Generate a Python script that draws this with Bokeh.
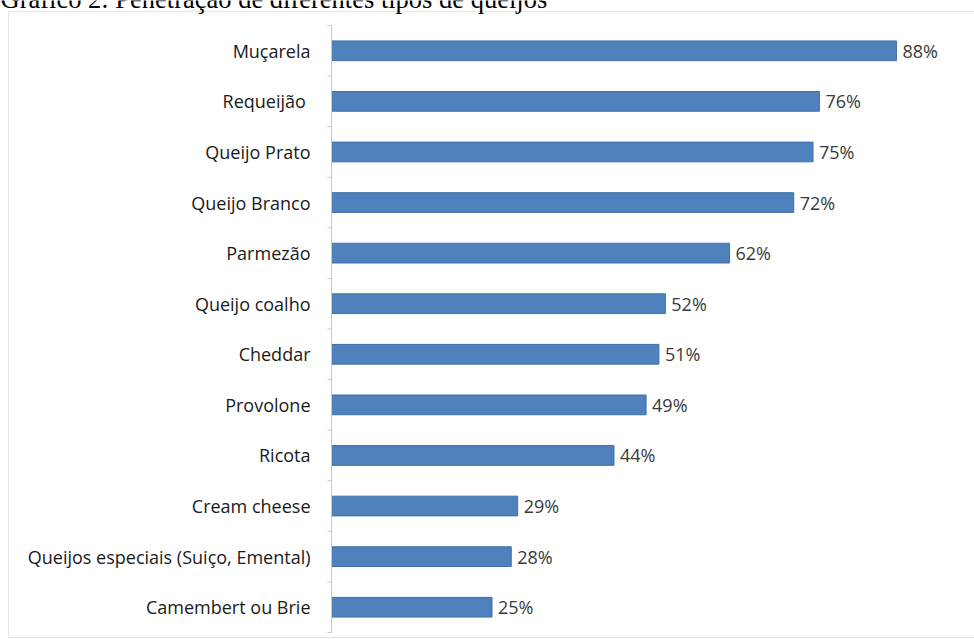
import math
from bokeh.plotting import figure
from bokeh.models import Range1d, ColumnDataSource, LabelSet, Label, BoxAnnotation
from bokeh.core.properties import value
from bokeh.embed import file_html
from bokeh.resources import INLINE

categories = ["Muçarela", "Requeijão ", "Queijo Prato", "Queijo Branco", "Parmezão",
              "Queijo coalho", "Cheddar", "Provolone", "Ricota", "Cream cheese",
              "Queijos especiais (Suiço, Emental)", "Camembert ou Brie"]
values = [88, 76, 75, 72, 62, 52, 51, 49, 44, 29, 28, 25]
value_labels = [f"{v}%" for v in values]
title_text = "Gráfico 2: Penetração de diferentes tipos de queijos"

n = len(categories)
ys = [n - 0.5 - i for i in range(n)]
boundaries = list(range(n + 1))
src = ColumnDataSource(dict(y=ys, v=values, lab=value_labels, cat=categories))

# Layout geometry (pixels) of the plotting area inside the canvas
W, H = 974, 639
axis_px = 331          # where value 0 sits
px_per_pct = 6.42
plot_top_px, plot_bottom_px = 25, 632
band_px = (plot_bottom_px - plot_top_px) / n

x_start = -axis_px / px_per_pct
x_end = (W - axis_px) / px_per_pct
y_end = n + plot_top_px / band_px
y_start = -(H - plot_bottom_px) / band_px

p = figure(width=W, height=H, output_backend="svg", toolbar_location=None,
           x_range=Range1d(x_start, x_end), y_range=Range1d(y_start, y_end),
           min_border=0)
p.background_fill_color = "white"
p.border_fill_color = "white"
p.outline_line_color = None
p.xgrid.visible = False
p.ygrid.visible = False
p.xaxis.visible = False
p.yaxis.visible = False

# chart box border
border = BoxAnnotation(left=8, right=990, top=11, bottom=637,
                       left_units="canvas", right_units="canvas",
                       top_units="canvas", bottom_units="canvas",
                       fill_color=None, line_color="#A6A6A6", line_width=1, level="underlay")
p.add_layout(border)

# bars
p.hbar(y="y", left=0, right="v", height=0.39, source=src,
       fill_color="#4F81BD", line_color="#3F6FA9", line_width=1)

# category axis: line, tick marks at category boundaries, labels
p.segment(x0=0, y0=0, x1=0, y1=n, line_color="#C8C8C8", line_width=1)
p.ray(x=[0] * len(boundaries), y=boundaries, length=4, length_units="screen",
      angle=math.pi, line_color="#C8C8C8", line_width=1)
p.text(x=0, y="y", text="cat", source=src, x_offset=-21,
       text_align="right", text_baseline="middle",
       text_font=value("Open Sans"), text_font_size="18px", text_color="#1A1A1A")

# value labels
labels = LabelSet(x="v", y="y", text="lab", source=src, x_offset=6,
                  text_baseline="middle", text_align="left",
                  text_font=value("Open Sans"), text_font_size="18px", text_color="#3A3A3A")
p.add_layout(labels)

# document caption, cut by the top edge as in the original
title = Label(x=0, y=-2, x_units="canvas", y_units="canvas", text=title_text,
              text_font="Liberation Serif", text_font_size="26.5px",
              text_baseline="alphabetic", text_color="#000000")
p.add_layout(title)

open("out.html", "w").write(file_html(p, INLINE))
